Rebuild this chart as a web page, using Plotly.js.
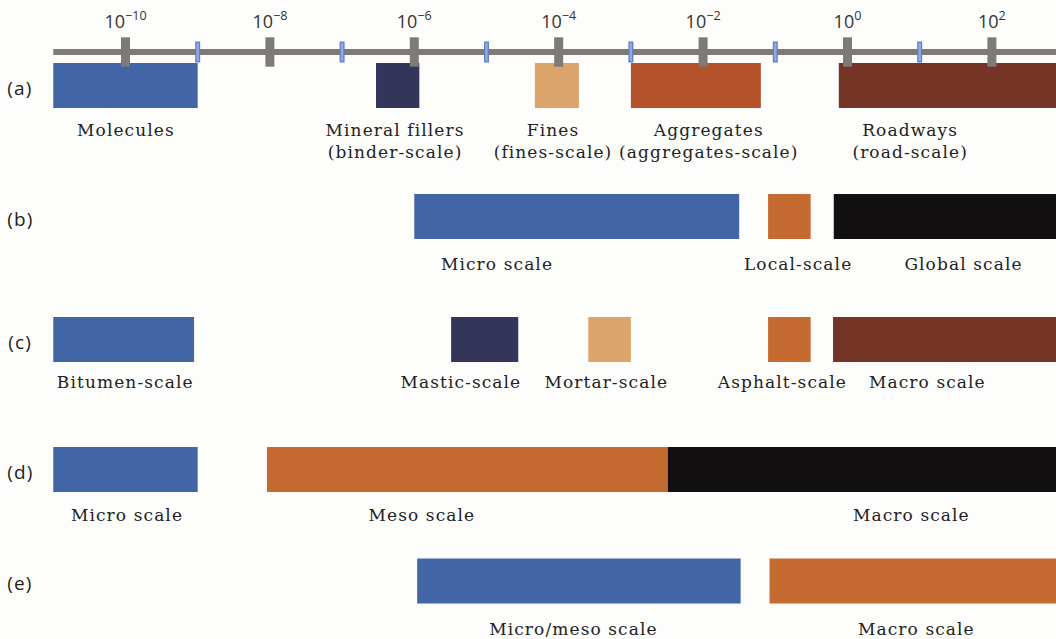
<!DOCTYPE html>
<html>
<head>
<meta charset="utf-8">
<script src="https://cdn.plot.ly/plotly-3.0.1.min.js"></script>
<style>
  html, body { margin: 0; padding: 0; background: #fdfdfb; }
  #chart { width: 1056px; height: 639px; }
  .annotation text { letter-spacing: 1.1px; }
</style>
</head>
<body>
<div id="chart"></div>
<script>
// ---------------- DATA (length scale, log10 of metres) ----------------
const rowNames = ['(a)', '(b)', '(c)', '(d)', '(e)'];

const aLabels = ['Molecules', 'Mineral fillers<br>(binder-scale)', 'Fines<br>(fines-scale)', 'Aggregates<br>(aggregates-scale)', 'Roadways<br>(road-scale)'];
const aStart  = [-11.0, -6.53, -4.33, -3.00, -0.12];
const aEnd    = [-9.00, -5.93, -3.72, -1.20, 3.00];

const bLabels = ['Micro scale', 'Local-scale', 'Global scale'];
const bStart  = [-6.00, -1.10, -0.19];
const bEnd    = [-1.50, -0.51, 3.00];

const cLabels = ['Bitumen-scale', 'Mastic-scale', 'Mortar-scale', 'Asphalt-scale', 'Macro scale'];
const cStart  = [-11.0, -5.49, -3.59, -1.10, -0.20];
const cEnd    = [-9.05, -4.56, -3.00, -0.51, 3.00];

const dLabels = ['Micro scale', 'Meso scale', 'Macro scale'];
const dStart  = [-11.0, -8.04, -2.49];
const dEnd    = [-9.00, -2.49, 3.00];

const eLabels = ['Micro/meso scale', 'Macro scale'];
const eStart  = [-5.96, -1.08];
const eEnd    = [-1.48, 3.00];

const majorExps = [-10, -8, -6, -4, -2, 0, 2];
const minorExps = [-9, -7, -5, -3, -1, 1];
const tickText  = majorExps.map(e => '10<sup>' + (e < 0 ? '\u2212' + (-e) : e) + '</sup>');

// ---------------- STYLE / LAYOUT ----------------
const BLUE = '#4165a5', NAVY = '#33355a', TAN = '#daa46b', RUST = '#b4522b',
      BROWN = '#743526', ORANGE = '#c56b31', BLACK = '#121010';
const rowColors = [
  [BLUE, NAVY, TAN, RUST, BROWN],
  [BLUE, ORANGE, BLACK],
  [BLUE, NAVY, TAN, ORANGE, BROWN],
  [BLUE, ORANGE, BLACK],
  [BLUE, ORANGE]
];
const rowY      = [85.5, 216.5, 339.5, 469.5, 581];   // row centre (px units of y axis)
const labelTopY = [119, 253, 371, 504, 618];
const labelX = [
  [-9.99, -6.27, -4.08, -1.92, 0.87],
  [-4.85, -0.69, 1.61],
  [-10.01, -5.35, -3.34, -0.91, 1.11],
  [-9.98, -5.89, 0.89],
  [-3.79, 0.95]
];
const axisY = 52;
const BAR_H = 45;
const GREY = '#7f7a76';

const starts = [aStart, bStart, cStart, dStart, eStart];
const ends   = [aEnd, bEnd, cEnd, dEnd, eEnd];
const labels = [aLabels, bLabels, cLabels, dLabels, eLabels];

const traces = [];
starts.forEach((s, r) => {
  traces.push({
    type: 'bar', orientation: 'h',
    base: s,
    x: s.map((v, i) => ends[r][i] - v),
    y: s.map(() => rowY[r]),
    width: BAR_H,
    marker: { color: rowColors[r], line: { width: 0 } },
    hoverinfo: 'skip', showlegend: false
  });
});

// axis line
traces.push({
  type: 'scatter', mode: 'lines',
  x: [-11, 3], y: [axisY, axisY],
  line: { color: GREY, width: 6 },
  hoverinfo: 'skip', showlegend: false
});
// major tick blocks
traces.push({
  type: 'scatter', mode: 'markers',
  x: majorExps, y: majorExps.map(() => axisY),
  marker: { symbol: 'line-ns-open', size: 21, color: GREY, line: { color: GREY, width: 9 } },
  hoverinfo: 'skip', showlegend: false
});
// minor (odd) ticks, outline + fill
traces.push({
  type: 'scatter', mode: 'markers',
  x: minorExps, y: minorExps.map(() => axisY),
  marker: { symbol: 'line-ns-open', size: 15, color: '#5f7fbf', line: { color: '#5f7fbf', width: 5 } },
  hoverinfo: 'skip', showlegend: false
});
traces.push({
  type: 'scatter', mode: 'markers',
  x: minorExps, y: minorExps.map(() => axisY),
  marker: { symbol: 'line-ns-open', size: 13, color: '#8eaaea', line: { color: '#8eaaea', width: 2.5 } },
  hoverinfo: 'skip', showlegend: false
});

const annotations = [];
labels.forEach((row, r) => {
  row.forEach((t, i) => {
    annotations.push({
      x: labelX[r][i], y: labelTopY[r], xref: 'x', yref: 'y',
      text: t, showarrow: false, xanchor: 'center', yanchor: 'top',
      font: { family: 'DejaVu Serif', size: 17, color: '#222222' },
      align: 'center', borderpad: 0
    });
  });
});
rowNames.forEach((n, r) => {
  annotations.push({
    x: 20 / 1056, y: rowY[r] + 2, xref: 'paper', yref: 'y',
    text: n, showarrow: false, xanchor: 'center', yanchor: 'middle',
    font: { family: 'Open Sans', size: 19, color: '#222222' }
  });
});

const layout = {
  width: 1056, height: 639,
  margin: { l: 0, r: 0, t: 0, b: 0 },
  paper_bgcolor: '#fdfdfb', plot_bgcolor: '#fdfdfb',
  barmode: 'overlay',
  xaxis: {
    range: [-11.738, 2.888], showgrid: false, zeroline: false,
    side: 'top', anchor: 'free', position: 1 - axisY / 639,
    tickmode: 'array', tickvals: majorExps, ticktext: tickText,
    ticks: 'outside', ticklen: 17, tickcolor: 'rgba(0,0,0,0)',
    showline: false,
    tickfont: { family: 'Open Sans', size: 18, color: '#333333' }
  },
  yaxis: {
    range: [639, 0], showgrid: false, zeroline: false, showticklabels: false,
    ticks: '', showline: false
  },
  annotations: annotations
};

Plotly.newPlot('chart', traces, layout, { staticPlot: true, displayModeBar: false });
</script>
</body>
</html>
